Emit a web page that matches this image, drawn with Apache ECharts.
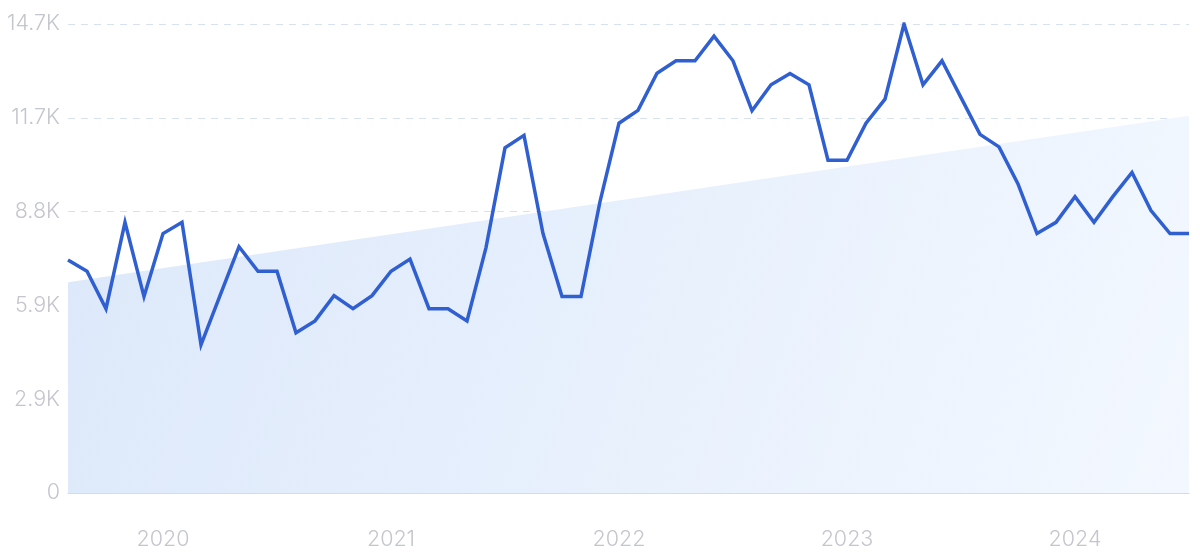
<!DOCTYPE html>
<html>
<head>
<meta charset="utf-8">
<script src="https://cdn.jsdelivr.net/npm/echarts@6/dist/echarts.min.js"></script>
<style>
html,body{margin:0;padding:0;background:#fff;}
#chart{width:1200px;height:556px;}
</style>
</head>
<body>
<div id="chart"></div>
<script>
const months = [
  '2019-08','2019-09','2019-10','2019-11','2019-12',
  '2020-01','2020-02','2020-03','2020-04','2020-05','2020-06','2020-07','2020-08','2020-09','2020-10','2020-11','2020-12',
  '2021-01','2021-02','2021-03','2021-04','2021-05','2021-06','2021-07','2021-08','2021-09','2021-10','2021-11','2021-12',
  '2022-01','2022-02','2022-03','2022-04','2022-05','2022-06','2022-07','2022-08','2022-09','2022-10','2022-11','2022-12',
  '2023-01','2023-02','2023-03','2023-04','2023-05','2023-06','2023-07','2023-08','2023-09','2023-10','2023-11','2023-12',
  '2024-01','2024-02','2024-03','2024-04','2024-05','2024-06','2024-07'
];
const searches = [
  7280, 6930, 5760, 8460, 6140,
  8110, 8460, 4630, 6170, 7700, 6930, 6930, 5010, 5380, 6170, 5760, 6170,
  6930, 7310, 5760, 5760, 5380, 7670, 10790, 11180, 8110, 6140, 6140, 9110,
  11560, 11960, 13120, 13510, 13510, 14280, 13510, 11950, 12760, 13110, 12760, 10400,
  10400, 11560, 12310, 14660, 12760, 13510, 12360, 11210, 10820, 9660, 8110, 8460,
  9260, 8460, 9270, 10020, 8830, 8110, 8110
];
const trendStart = 6590;
const trendEnd = 11790;
const yTicks = ['0','2.9K','5.9K','8.8K','11.7K','14.7K'];
const yMax = 14660;
const yInterval = 2932;

const trend = months.map((m, i) => i === 0 ? trendStart : (i === months.length - 1 ? trendEnd : null));

const chart = echarts.init(document.getElementById('chart'));
chart.setOption({
  animation: false,
  grid: { left: 68, right: 11, top: 24, bottom: 63 },
  xAxis: {
    type: 'category',
    data: months,
    boundaryGap: false,
    axisLine: { show: true, lineStyle: { color: '#cfdcf3', width: 1 } },
    axisTick: { show: false },
    splitLine: { show: false },
    axisLabel: {
      interval: 0,
      margin: 36,
      color: '#c3c6cc',
      fontFamily: 'Inter',
      fontWeight: 300,
      fontSize: 21.5,
      formatter: function (v) { return v.endsWith('-01') ? v.slice(0, 4) : ''; }
    }
  },
  yAxis: {
    type: 'value',
    min: 0,
    max: yMax,
    interval: yInterval,
    axisLine: { show: false },
    axisTick: { show: false },
    splitLine: { show: true, lineStyle: { color: '#d8e1f0', type: [7, 6], width: 1 } },
    axisLabel: {
      margin: 8,
      color: '#c3c6cc',
      fontFamily: 'Inter',
      fontWeight: 300,
      fontSize: 21.5,
      formatter: function (v) { return yTicks[Math.round(v / yInterval)]; }
    }
  },
  series: [
    {
      type: 'line',
      data: trend,
      connectNulls: true,
      symbol: 'none',
      lineStyle: { width: 0 },
      areaStyle: {
        opacity: 1,
        color: new echarts.graphic.LinearGradient(0, 0, 1, 1, [
          { offset: 0, color: '#dce8fa' },
          { offset: 1, color: '#f3f8ff' }
        ])
      },
      z: 1
    },
    {
      type: 'line',
      data: searches,
      symbol: 'none',
      lineStyle: { color: '#2f5fd0', width: 3.5, join: 'miter' },
      z: 3
    }
  ]
});
</script>
</body>
</html>
